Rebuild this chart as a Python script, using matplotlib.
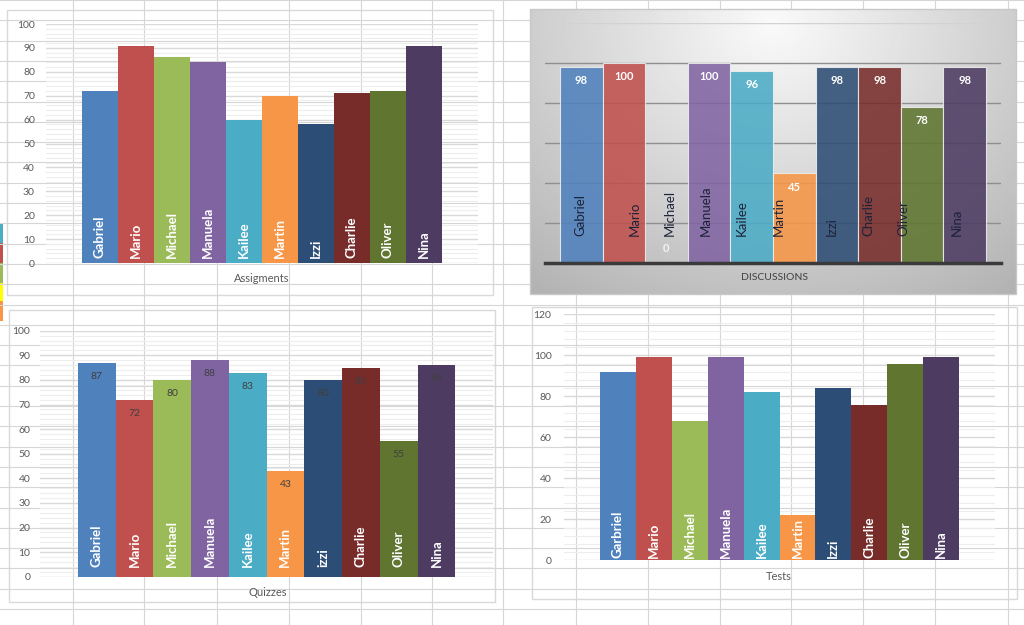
import numpy as np
import matplotlib
matplotlib.use("Agg")
import matplotlib.pyplot as plt
from matplotlib.patches import Rectangle

plt.rcParams['font.family'] = ['Lato', 'DejaVu Sans']

# data
names = ['Gabriel', 'Mario', 'Michael', 'Manuela', 'Kailee', 'Martin', 'Izzi', 'Charlie', 'Oliver', 'Nina']
quiz_names = ['Gabriel', 'Mario', 'Michael', 'Manuela', 'Kailee', 'Martin', 'izzi', 'Charlie', 'Oliver', 'Nina']
test_names = ['Garbriel', 'Mario', 'Michael', 'Manuela', 'Kailee', 'Martin', 'Izzi', 'Charlie', 'Oliver', 'Nina']

assignments = [72, 91, 86, 84, 60, 70, 58, 71, 72, 91]
discussions = [98, 100, 0, 100, 96, 45, 98, 98, 78, 98]
quizzes = [87, 72, 80, 88, 83, 43, 80, 85, 55, 86]
tests = [92, 99, 68, 99, 82, 22, 84, 76, 96, 99]

colors = ['#4F81BD', '#C0504D', '#9BBB59', '#8064A2', '#4BACC6',
          '#F79646', '#2C4D75', '#772C2A', '#5F7530', '#4D3B62']
# the name labels on the discussions chart sit a bit off the bar centres
disc_shift = [-0.02, 0.26, 0.08, -0.08, -0.23, -0.37, -0.12, -0.27, -0.45, -0.19]

W, H = 1024, 625
fig = plt.figure(figsize=(W / 100, H / 100), dpi=100)

# spreadsheet background
bg = fig.add_axes([0, 0, 1, 1])
bg.set_xlim(0, W)
bg.set_ylim(H, 0)
bg.axis('off')
for x in [73, 144, 217, 289, 361, 432, 503, 576, 648, 720, 791, 863, 935, 1008]:
    bg.axvline(x, color='#d6d6d6', lw=0.8)
for y in np.arange(0, H, 20.3):
    bg.axhline(y, color='#d6d6d6', lw=0.8)
for y0, c in [(223, '#4BACC6'), (243, '#C0504D'), (263, '#9BBB59'), (283, '#FFFF00'), (301, '#F79646')]:
    bg.add_patch(Rectangle((0, y0), 3, 20, fc=c, ec='none'))

# chart boxes
for x0, y0, x1, y1 in [(7, 10, 493, 295), (9, 310, 495, 602), (532, 307, 1017, 599)]:
    bg.add_patch(Rectangle((x0, y0), x1 - x0, y1 - y0, fc='white', ec='#d9d9d9', lw=1))

# gradient box of the discussions chart
gx0, gy0, gx1, gy1 = 530, 9, 1016, 294
u, v = np.meshgrid(np.linspace(0, 1, 300), np.linspace(0, 1, 180))
d = np.sqrt(((u - 0.5) / 0.75) ** 2 + ((v - 0.05) / 1.1) ** 2)
shade = np.clip(0.98 - 0.26 * d, 0, 1)
bg.imshow(shade, cmap='gray', vmin=0, vmax=1, extent=(gx0, gx1, gy1, gy0), aspect='auto', zorder=2)
bg.add_patch(Rectangle((gx0, gy0), gx1 - gx0, gy1 - gy0, fc='none', ec='#c8c8c8', lw=1, zorder=3))


def px_axes(x0, y0, x1, y1):
    ax = fig.add_axes([x0 / W, 1 - y1 / H, (x1 - x0) / W, (y1 - y0) / H])
    ax.set_facecolor('none')
    return ax


def white_chart(ax, vals, labels, ymax, major, minor, name_y, pad):
    x = np.arange(len(vals))
    ax.bar(x, vals, width=1, color=colors, zorder=3)
    ax.set_xlim(-1.5, 10.5)
    ax.set_ylim(0, ymax)
    ax.set_yticks(np.arange(0, ymax + 1, major))
    ax.set_yticks(np.arange(0, ymax + 1, minor), minor=True)
    ax.grid(axis='y', which='minor', color='#ededed', lw=0.8, zorder=0)
    ax.grid(axis='y', which='major', color='#d9d9d9', lw=1.0, zorder=1)
    for s in ax.spines.values():
        s.set_visible(False)
    ax.set_xticks([])
    ax.tick_params(axis='y', which='both', length=0, labelsize=7.5, labelcolor='#595959', pad=pad)
    for i in x:
        ax.text(i, name_y, labels[i], rotation=90, ha='center', va='bottom',
                color='white', fontweight='bold', fontsize=9.5, zorder=4)


# Assigments
ax1 = px_axes(46, 24, 478, 263)
white_chart(ax1, assignments, names, 100, 10, 2, 2, 8)
fig.text(262 / W, 1 - 278 / H, 'Assigments', ha='center', va='center', fontsize=8, color='#595959')

# Quizzes
ax3 = px_axes(40, 330.7, 493, 576.7)
white_chart(ax3, quizzes, quiz_names, 100, 10, 2, 4, 7)
for i, q in enumerate(quizzes):
    ax3.text(i, q - 5.5, str(q), ha='center', va='center', fontsize=7.5, color='#404040', zorder=4)
fig.text(268 / W, 1 - 593 / H, 'Quizzes', ha='center', va='center', fontsize=8, color='#595959')

# Tests
ax4 = px_axes(564, 314.3, 995, 560.3)
white_chart(ax4, tests, test_names, 120, 20, 4, 1.3, 9)
fig.text(779 / W, 1 - 576 / H, 'Tests', ha='center', va='center', fontsize=8, color='#595959')

# DISCUSSIONS
ax2 = px_axes(545, 23, 1001, 263)
ax2.set_xlim(-0.85, 9.85)
ax2.set_ylim(0, 120)
for gy in [20, 40, 60, 80, 100]:
    ax2.axhline(gy, color='#8f8f8f', lw=1, zorder=1)
ax2.axhline(120, color='#d2d2d2', lw=1, zorder=1)
ax2.bar(np.arange(10), discussions, width=1, color=colors, alpha=0.88,
        edgecolor='#eeeeee', lw=0.8, zorder=2)
for s in ['top', 'left', 'right']:
    ax2.spines[s].set_visible(False)
ax2.spines['bottom'].set_color('#3a3a3a')
ax2.spines['bottom'].set_linewidth(2.5)
ax2.spines['bottom'].set_zorder(5)
ax2.set_xticks([])
ax2.set_yticks([])
for i, dv in enumerate(discussions):
    ty = dv - 7 if dv > 0 else 7.5
    ax2.text(i, ty, str(dv), ha='center', va='center', fontsize=8, fontweight='bold',
             color='white' if dv > 0 else '#f4f4f4', zorder=4)
    ax2.text(i + disc_shift[i], 13.5, names[i], rotation=90, ha='center', va='bottom',
             fontsize=9.5, color='#1c2238', zorder=4)
fig.text(774 / W, 1 - 277 / H, 'DISCUSSIONS', ha='center', va='center', fontsize=7.5, color='#404040')

fig.savefig('out.png', dpi=100)
